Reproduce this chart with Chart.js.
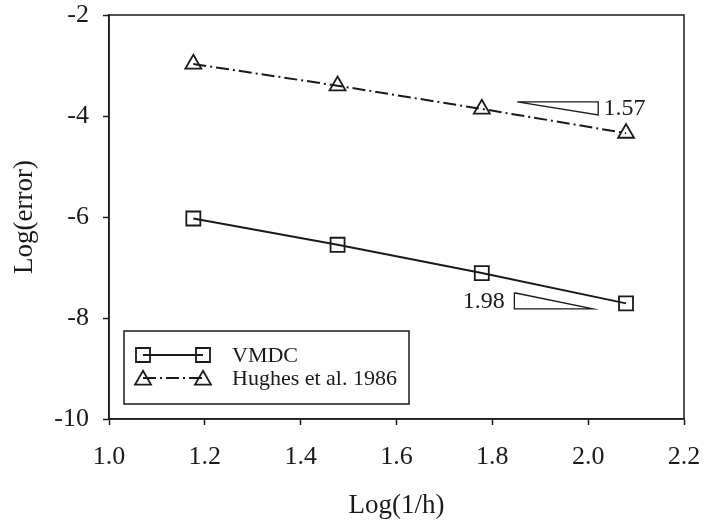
<!DOCTYPE html>
<html>
<head>
<meta charset="utf-8">
<script src="https://cdn.jsdelivr.net/npm/chart.js@4/dist/chart.umd.min.js"></script>
<style>
  html, body { margin: 0; padding: 0; background: #fff; }
  canvas { display: block; }
</style>
</head>
<body>
<canvas id="convChart" width="706" height="525"></canvas>
<script>
// Log(1/h) values shared by both series
const logInvH = [1.176, 1.477, 1.778, 2.079];
// Log(error) for each method
const vmdcErr = [-6.03, -6.55, -7.11, -7.71];
const hughesErr = [-2.97, -3.40, -3.86, -4.34];

// slope indicator triangles (data coords) and their labels
const slopeUpperX = [1.852, 2.021, 2.021, 1.852];
const slopeUpperY = [-3.72, -3.72, -3.98, -3.72];
const slopeLowerX = [1.846, 1.846, 2.010, 1.846];
const slopeLowerY = [-7.50, -7.82, -7.82, -7.50];
const slopeLabels = ['1.57', '1.98'];
const slopeLabelX = [2.032, 1.826];
const slopeLabelY = [-3.86, -7.68];

// axis ticks
const xTicks = [1.0, 1.2, 1.4, 1.6, 1.8, 2.0, 2.2];
const yTicks = [-2, -4, -6, -8, -10];

const legendNames = ['VMDC', 'Hughes et al. 1986'];

const ink = '#1a1a1a';
const serif = "'Liberation Serif', 'Times New Roman', serif";
const dashDot = [13, 4, 2, 4];

const toPts = (xs, ys) => xs.map((x, i) => ({ x: x, y: ys[i] }));

// frame (top + right border) and text annotations, custom legend
const extrasPlugin = {
  id: 'extras',
  afterDraw(chart) {
    const { ctx, chartArea: a, scales } = chart;
    ctx.save();
    ctx.strokeStyle = ink;
    ctx.lineWidth = 1.5;
    ctx.strokeRect(a.left, a.top, a.right - a.left, a.bottom - a.top);

    // slope labels
    ctx.fillStyle = ink;
    ctx.font = '24px ' + serif;
    ctx.textBaseline = 'middle';
    ctx.textAlign = 'left';
    ctx.fillText(slopeLabels[0], scales.x.getPixelForValue(slopeLabelX[0]), scales.y.getPixelForValue(slopeLabelY[0]));
    ctx.textAlign = 'right';
    ctx.fillText(slopeLabels[1], scales.x.getPixelForValue(slopeLabelX[1]), scales.y.getPixelForValue(slopeLabelY[1]));

    // legend box
    const bx = a.left + 15, by = a.bottom - 88, bw = 285, bh = 73;
    ctx.lineWidth = 1.5;
    ctx.strokeRect(bx, by, bw, bh);
    ctx.font = '22px ' + serif;
    ctx.textAlign = 'left';
    const rows = [by + 24, by + 47];
    const styles = ['rect', 'triangle'];
    const dashes = [[], dashDot];
    const radii = [9.9, 9.2];
    rows.forEach((ry, i) => {
      const x1 = bx + 19, x2 = bx + 79;
      ctx.setLineDash(dashes[i]);
      ctx.lineWidth = 2;
      ctx.beginPath();
      ctx.moveTo(x1, ry);
      ctx.lineTo(x2, ry);
      ctx.stroke();
      ctx.setLineDash([]);
      const opts = { pointStyle: styles[i], radius: radii[i], borderWidth: 1.8 };
      ctx.fillStyle = 'rgba(0,0,0,0)';
      ctx.strokeStyle = ink;
      ctx.lineWidth = 1.8;
      Chart.helpers.drawPoint(ctx, opts, x1, ry + (i === 1 ? 2 : 0));
      Chart.helpers.drawPoint(ctx, opts, x2, ry + (i === 1 ? 2 : 0));
      ctx.fillStyle = ink;
      ctx.fillText(legendNames[i], bx + 108, ry + 1);
    });
    ctx.restore();
  }
};

new Chart(document.getElementById('convChart'), {
  type: 'scatter',
  data: {
    datasets: [
      {
        label: legendNames[0],
        data: toPts(logInvH, vmdcErr),
        showLine: true,
        borderColor: ink,
        borderWidth: 2,
        pointStyle: 'rect',
        pointRadius: 9.9,
        pointBorderWidth: 1.8,
        pointBackgroundColor: 'rgba(0,0,0,0)',
        pointBorderColor: ink
      },
      {
        label: legendNames[1],
        data: toPts(logInvH, hughesErr),
        showLine: true,
        borderColor: ink,
        borderWidth: 2,
        borderDash: dashDot,
        pointStyle: 'triangle',
        pointRadius: 9.2,
        pointBorderWidth: 1.8,
        pointBackgroundColor: 'rgba(0,0,0,0)',
        pointBorderColor: ink
      },
      {
        label: 'slope upper',
        data: toPts(slopeUpperX, slopeUpperY),
        showLine: true,
        borderColor: ink,
        borderWidth: 1.3,
        pointRadius: 0
      },
      {
        label: 'slope lower',
        data: toPts(slopeLowerX, slopeLowerY),
        showLine: true,
        borderColor: ink,
        borderWidth: 1.3,
        pointRadius: 0
      }
    ]
  },
  options: {
    responsive: false,
    animation: false,
    layout: { padding: { top: 15, right: 22, left: 0, bottom: 0 } },
    plugins: {
      legend: { display: false },
      tooltip: { enabled: false }
    },
    scales: {
      x: {
        type: 'linear',
        min: 1.0,
        max: 2.2,
        afterFit(scale) {
          scale.height = 106;
          scale.paddingLeft = 0;
          scale.paddingRight = 0;
        },
        afterBuildTicks(scale) { scale.ticks = xTicks.map(v => ({ value: v })); },
        grid: { drawOnChartArea: false, drawTicks: true, tickLength: 6, color: ink, tickWidth: 1.5 },
        border: { display: true, color: ink, width: 1.5 },
        ticks: {
          color: ink,
          padding: 17,
          font: { family: serif, size: 26 },
          callback: v => v.toFixed(1)
        },
        title: {
          display: true,
          text: 'Log(1/h)',
          color: ink,
          font: { family: serif, size: 27 },
          padding: { top: 0, bottom: 3 }
        }
      },
      y: {
        type: 'linear',
        min: -10,
        max: -2,
        afterFit(scale) {
          scale.width = 109;
          scale.paddingTop = 0;
          scale.paddingBottom = 0;
        },
        afterBuildTicks(scale) { scale.ticks = yTicks.map(v => ({ value: v })); },
        grid: { drawOnChartArea: false, drawTicks: true, tickLength: 6, color: ink, tickWidth: 1.5 },
        border: { display: true, color: ink, width: 1.5 },
        ticks: {
          color: ink,
          padding: 14,
          font: { family: serif, size: 26 },
          callback: v => String(v)
        },
        title: {
          display: true,
          text: 'Log(error)',
          color: ink,
          font: { family: serif, size: 27 },
          padding: { top: 9, bottom: 0 }
        }
      }
    }
  },
  plugins: [extrasPlugin]
});
</script>
</body>
</html>
